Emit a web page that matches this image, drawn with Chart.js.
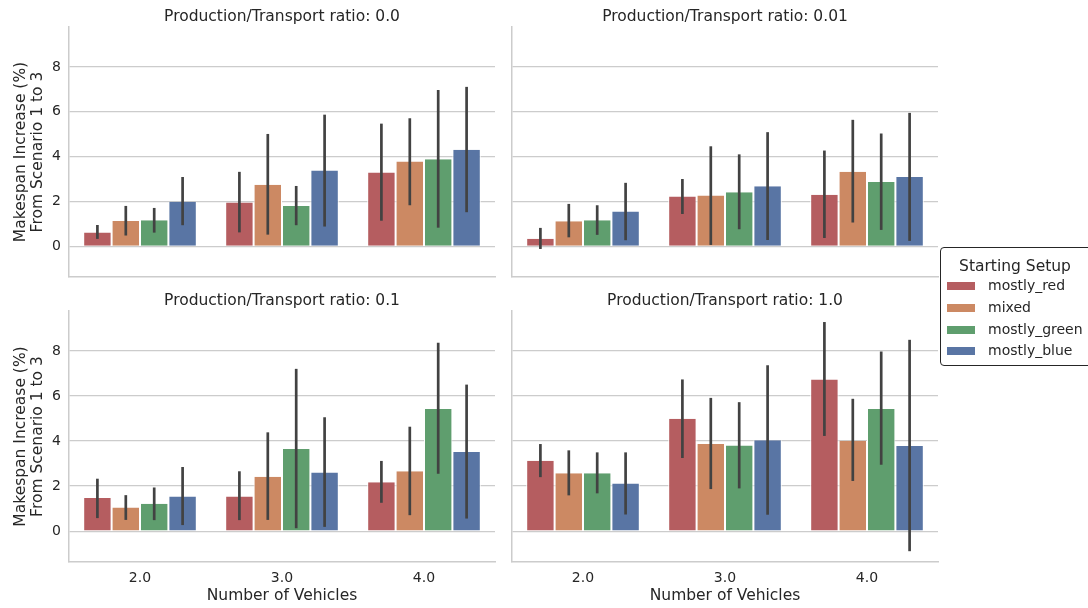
<!DOCTYPE html>
<html>
<head>
<meta charset="utf-8">
<script src="https://cdn.jsdelivr.net/npm/chart.js@4.4.1/dist/chart.umd.min.js"></script>
<style>
  html, body { margin: 0; padding: 0; background: #ffffff; }
  body { width: 1088px; height: 608px; position: relative; overflow: hidden;
         font-family: 'DejaVu Sans', sans-serif; color: #262626; }
  canvas { position: absolute; display: block; }
  #legend { position: absolute; left: 940px; top: 247px; width: 152px; height: 119px;
            border: 1px solid #262626; border-radius: 4px; box-sizing: border-box; background: #fff; }
  #legend .ttl { position: absolute; left: 0; width: 148px; text-align: center; font-size: 15.5px;
                 line-height: 18px; top: 9px; }
  #legend .sw { position: absolute; left: 6px; width: 28px; height: 8px; }
  #legend .lbl { position: absolute; left: 47px; font-size: 14px; line-height: 16px; white-space: nowrap; }
</style>
</head>
<body>
<canvas id="p0" width="505" height="290" style="left:0px;top:0px;width:505px;height:290px"></canvas>
<canvas id="p1" width="440" height="290" style="left:505px;top:0px;width:440px;height:290px"></canvas>
<canvas id="p2" width="505" height="318" style="left:0px;top:290px;width:505px;height:318px"></canvas>
<canvas id="p3" width="440" height="318" style="left:505px;top:290px;width:440px;height:318px"></canvas>
<div id="legend"></div>

<script>
// ---- data -------------------------------------------------------------
const vehicleCounts = ['2.0', '3.0', '4.0'];
const setups = ['mostly_red', 'mixed', 'mostly_green', 'mostly_blue'];
const setupColors = ['#b55d60', '#cc8963', '#5f9e6e', '#5975a4'];
const ratioLabels = ['0.0', '0.01', '0.1', '1.0'];
const yTickValues = [0, 2, 4, 6, 8];
const yMin = -1.37;
const yMax = 9.78;

// mean makespan increase (%) per setup, one row per setup, columns = vehicles 2,3,4
const ratio00Mean = [[0.62, 1.95, 3.29], [1.13, 2.74, 3.78], [1.16, 1.80, 3.88], [1.99, 3.38, 4.31]];
const ratio00Low  = [[0.33, 0.62, 1.14], [0.48, 0.52, 1.83], [0.61, 0.94, 0.83], [0.94, 0.88, 1.52]];
const ratio00High = [[0.95, 3.32, 5.47], [1.80, 5.01, 5.71], [1.71, 2.69, 6.97], [3.09, 5.87, 7.11]];

const ratio001Mean = [[0.34, 2.22, 2.30], [1.12, 2.26, 3.32], [1.16, 2.41, 2.87], [1.55, 2.68, 3.09]];
const ratio001Low  = [[-0.12, 1.44, 0.37], [0.40, 0.06, 1.06], [0.51, 0.76, 0.73], [0.27, 0.28, 0.24]];
const ratio001High = [[0.82, 3.00, 4.27], [1.89, 4.46, 5.64], [1.83, 4.10, 5.03], [2.83, 5.09, 5.95]];

const ratio01Mean = [[1.47, 1.54, 2.17], [1.05, 2.42, 2.66], [1.22, 3.65, 5.43], [1.54, 2.61, 3.52]];
const ratio01Low  = [[0.58, 0.49, 1.26], [0.50, 0.50, 0.71], [0.49, 0.13, 2.55], [0.27, 0.19, 0.56]];
const ratio01High = [[2.33, 2.66, 3.12], [1.60, 4.39, 4.64], [1.94, 7.21, 8.37], [2.85, 5.06, 6.51]];

const ratio10Mean = [[3.13, 4.99, 6.74], [2.57, 3.87, 4.02], [2.57, 3.80, 5.43], [2.12, 4.04, 3.78]];
const ratio10Low  = [[2.40, 3.25, 4.23], [1.59, 1.87, 2.23], [1.68, 1.90, 2.95], [0.74, 0.73, -0.89]];
const ratio10High = [[3.87, 6.74, 9.29], [3.59, 5.92, 5.88], [3.50, 5.73, 7.98], [3.50, 7.37, 8.50]];

// ---- styling ----------------------------------------------------------
const FONT = "'DejaVu Sans', sans-serif";
const TEXT = '#262626';
const LIGHT = '#cccccc';

// vertical confidence-interval lines drawn over each bar
const ciPlugin = {
  id: 'ciLines',
  afterDatasetsDraw(chart) {
    const ctx = chart.ctx;
    const y = chart.scales.y;
    ctx.save();
    ctx.strokeStyle = '#424242';
    ctx.lineWidth = 2.7;
    ctx.lineCap = 'butt';
    chart.data.datasets.forEach((ds, i) => {
      const meta = chart.getDatasetMeta(i);
      meta.data.forEach((bar, j) => {
        ctx.beginPath();
        ctx.moveTo(bar.x, y.getPixelForValue(ds.ciLow[j]));
        ctx.lineTo(bar.x, y.getPixelForValue(ds.ciHigh[j]));
        ctx.stroke();
      });
    });
    ctx.restore();
  }
};

function makePanel(id, ratio, means, lows, highs, box) {
  // box: plot-area edges in canvas coordinates plus which axes carry labels
  const canvas = document.getElementById(id);
  const datasets = setups.map((name, k) => ({
    label: name,
    data: means[k],
    ciLow: lows[k],
    ciHigh: highs[k],
    backgroundColor: setupColors[k],
    borderColor: '#ffffff',
    borderWidth: { left: 1, right: 1, top: 0, bottom: 0 },
    categoryPercentage: 0.8,
    barPercentage: 1.0
  }));

  new Chart(canvas, {
    type: 'bar',
    data: { labels: vehicleCounts, datasets },
    plugins: [ciPlugin],
    options: {
      responsive: false,
      animation: false,
      devicePixelRatio: 1,
      layout: { padding: { left: 0, top: 0, right: canvas.width - box.right, bottom: 0 } },
      plugins: {
        legend: { display: false },
        tooltip: { enabled: false },
        title: {
          display: true,
          fullSize: false,
          text: 'Production/Transport ratio: ' + ratio,
          color: TEXT,
          font: { family: FONT, size: 15.5, weight: 'normal', lineHeight: 1.2 },
          padding: { top: box.top - 19.3, bottom: 0.7 }
        }
      },
      scales: {
        x: {
          type: 'category',
          grid: { display: false, drawTicks: false },
          border: { display: true, color: LIGHT, width: 1.5 },
          ticks: {
            display: box.xLabels,
            color: TEXT,
            padding: 8,
            font: { family: FONT, size: 14 }
          },
          title: {
            display: box.xLabels,
            text: 'Number of Vehicles',
            color: TEXT,
            font: { family: FONT, size: 15.5, lineHeight: 1.2 },
            padding: { top: 0, bottom: 3.2 }
          },
          afterFit(scale) {
            scale.height = canvas.height - box.bottom;
            scale.paddingLeft = 0;
            scale.paddingRight = 0;
          }
        },
        y: {
          min: yMin,
          max: yMax,
          grid: { color: LIGHT, lineWidth: 1.3, drawTicks: false },
          border: { display: true, color: LIGHT, width: 1.5 },
          afterBuildTicks(scale) { scale.ticks = yTickValues.map(v => ({ value: v })); },
          ticks: {
            display: box.yLabels,
            color: TEXT,
            padding: 8,
            font: { family: FONT, size: 14 }
          },
          title: {
            display: box.yLabels,
            text: ['Makespan Increase (%)', 'From Scenario 1 to 3'],
            color: TEXT,
            font: { family: FONT, size: 15.5, lineHeight: 1.065 },
            padding: { top: 13.2, bottom: 0 }
          },
          afterFit(scale) {
            scale.width = box.left;
            scale.paddingTop = 0;
            scale.paddingBottom = 0;
          }
        }
      }
    }
  });
}

makePanel('p0', ratioLabels[0], ratio00Mean, ratio00Low, ratio00High,
  { left: 69, top: 27, right: 495, bottom: 277, xLabels: false, yLabels: true });
makePanel('p1', ratioLabels[1], ratio001Mean, ratio001Low, ratio001High,
  { left: 7, top: 27, right: 433, bottom: 277, xLabels: false, yLabels: false });
makePanel('p2', ratioLabels[2], ratio01Mean, ratio01Low, ratio01High,
  { left: 69, top: 21, right: 495, bottom: 272, xLabels: true, yLabels: true });
makePanel('p3', ratioLabels[3], ratio10Mean, ratio10Low, ratio10High,
  { left: 7, top: 21, right: 433, bottom: 272, xLabels: true, yLabels: false });

// shared legend for all four panels
const legend = document.getElementById('legend');
const ttl = document.createElement('div');
ttl.className = 'ttl';
ttl.textContent = 'Starting Setup';
legend.appendChild(ttl);
setups.forEach((name, k) => {
  const rowCenter = 38 + k * 21.8;
  const sw = document.createElement('div');
  sw.className = 'sw';
  sw.style.top = (rowCenter - 4) + 'px';
  sw.style.background = setupColors[k];
  legend.appendChild(sw);
  const lbl = document.createElement('div');
  lbl.className = 'lbl';
  lbl.style.top = (rowCenter - 9) + 'px';
  lbl.textContent = name;
  legend.appendChild(lbl);
});
</script>
</body>
</html>
